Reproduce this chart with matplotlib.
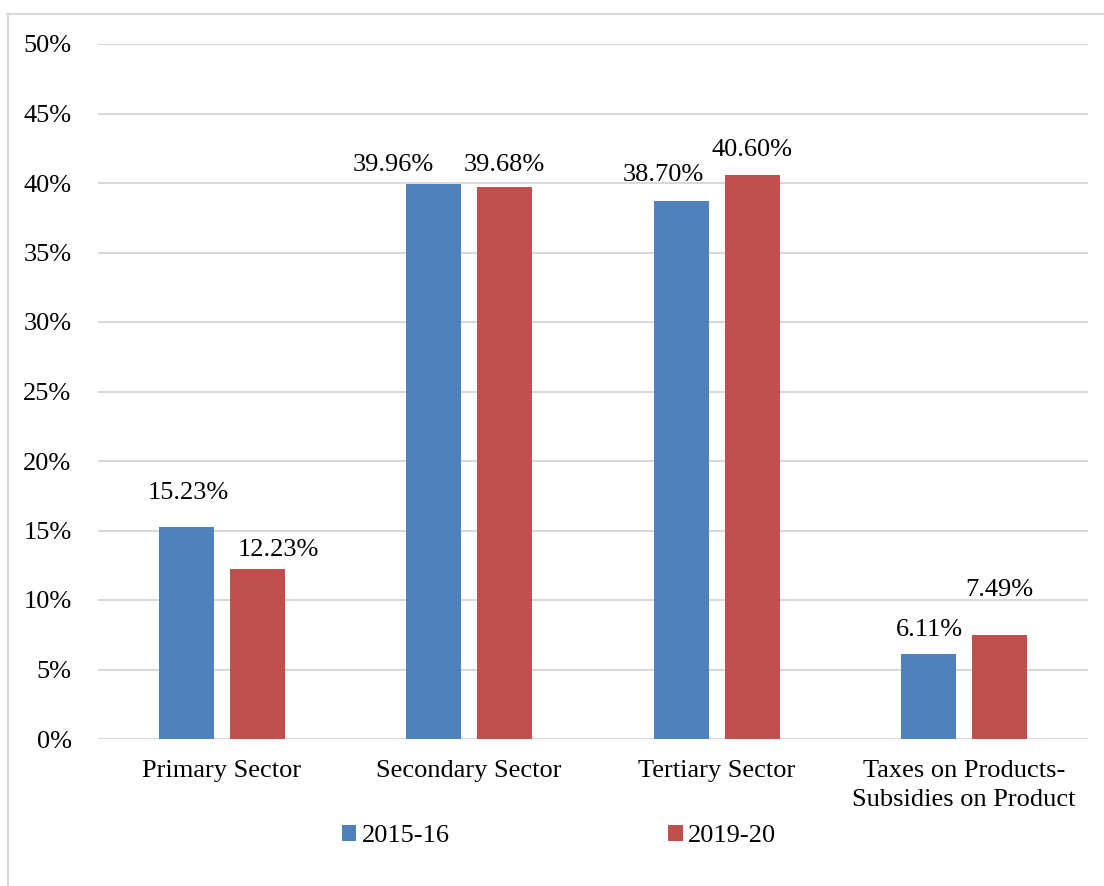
import matplotlib.pyplot as plt
import numpy as np
from matplotlib.lines import Line2D
from matplotlib.ticker import FuncFormatter

plt.rcParams["font.family"] = ["Liberation Serif", "DejaVu Serif"]

categories = ["Primary Sector", "Secondary Sector", "Tertiary Sector",
              "Taxes on Products-\nSubsidies on Product"]
series_names = ["2015-16", "2019-20"]
values_2015 = [15.23, 39.96, 38.70, 6.11]
values_2019 = [12.23, 39.68, 40.60, 7.49]
yticks = [0, 5, 10, 15, 20, 25, 30, 35, 40, 45, 50]

# label nudges (pixels) to mimic the spreadsheet's label placement
offsets_2015 = [(2, 34), (-41, 19), (-18, 26), (1, 24)]
offsets_2019 = [(21, 19), (0, 22), (0, 25), (0, 45)]

BLUE = "#4F81BD"
RED = "#C0504D"
GRID = "#D9D9D9"
FS = 19

fig = plt.figure(figsize=(11.04, 8.86), dpi=100)
ax = fig.add_axes([98 / 1104, 1 - 739 / 886, 990 / 1104, 695 / 886])

x = np.arange(len(categories))
w = 0.222
shift = 0.143
b1 = ax.bar(x - shift, values_2015, w, color=BLUE, label=series_names[0], zorder=3)
b2 = ax.bar(x + shift, values_2019, w, color=RED, label=series_names[1], zorder=3)

for bars, vals, offs in [(b1, values_2015, offsets_2015), (b2, values_2019, offsets_2019)]:
    for rect, v, (dx, dy) in zip(bars, vals, offs):
        ax.annotate(f"{v:.2f}%", (rect.get_x() + rect.get_width() / 2, v),
                    xytext=(dx * 0.72, dy * 0.72), textcoords="offset points",
                    ha="center", va="center", fontsize=FS, zorder=4)

ax.set_xlim(-0.5, len(categories) - 0.5)
ax.set_ylim(0, 50)
ax.set_yticks(yticks)
ax.yaxis.set_major_formatter(FuncFormatter(lambda v, p: f"{v:.0f}%"))
ax.set_xticks(x)
ax.set_xticklabels(categories, fontsize=FS, linespacing=1.4)
ax.tick_params(axis="y", labelsize=FS, length=0, pad=19)
ax.tick_params(axis="x", length=0, pad=15)
ax.grid(axis="y", color=GRID, linewidth=1.5, zorder=0)
for s in ax.spines.values():
    s.set_visible(False)

fig.legend(loc="center", bbox_to_anchor=(559 / 1104, 1 - 836 / 886), ncol=2,
           frameon=False, fontsize=FS, handlelength=0.55, handleheight=0.55,
           handletextpad=0.2, columnspacing=8.3)

# light chart border (clipped by the image edges)
fig.add_artist(Line2D([7 / 1104, 1], [1 - 14 / 886, 1 - 14 / 886],
                      color=GRID, linewidth=1.5, transform=fig.transFigure))
fig.add_artist(Line2D([7.5 / 1104, 7.5 / 1104], [0, 1 - 14 / 886],
                      color=GRID, linewidth=1.5, transform=fig.transFigure))

fig.savefig("out.png", dpi=100)
